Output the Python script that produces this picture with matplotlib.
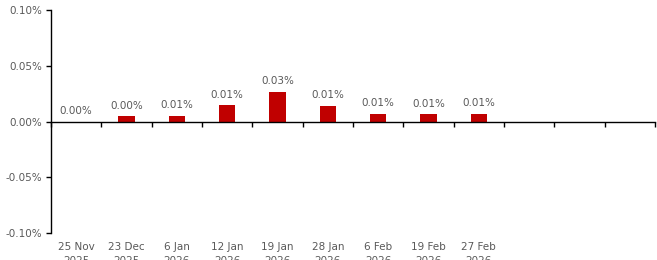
import matplotlib
matplotlib.use("Agg")
import matplotlib.pyplot as plt
import matplotlib.transforms as mtransforms
import numpy as np

categories = ["25 Nov\n2025", "23 Dec\n2025", "6 Jan\n2026", "12 Jan\n2026", "19 Jan\n2026",
              "28 Jan\n2026", "6 Feb\n2026", "19 Feb\n2026", "27 Feb\n2026", "", "", ""]
values = [0.0, 0.0045, 0.0053, 0.0146, 0.0265, 0.0140, 0.0069, 0.0066, 0.0071, None, None, None]
yticks = [-0.10, -0.05, 0.0, 0.05, 0.10]

W, H = 657, 260
fig = plt.figure(figsize=(W / 100, H / 100), dpi=100)
ax = fig.add_axes([51 / W, 1 - 233 / H, (655 - 51) / W, (233 - 10) / H])

gray = "#595959"
fs = 7.5
x = np.arange(len(categories))
for xi, v in zip(x, values):
    if v is None:
        continue
    if v > 0:
        ax.bar(xi, v, width=0.32, color="#C00000", zorder=2)
    ax.annotate(f"{v:.2f}%", (xi, v), xytext=(0, 4), textcoords="offset points",
                ha="center", va="bottom", fontsize=fs, color=gray)

ax.set_xlim(-0.5, len(categories) - 0.5)
ax.set_ylim(-0.10, 0.10)
ax.set_yticks(yticks)
ax.set_yticklabels([f"{t:.2f}%" for t in yticks], fontsize=fs, color=gray)
ax.tick_params(axis="y", length=3.5, width=1, color="black", pad=3)

for s in ["top", "right"]:
    ax.spines[s].set_visible(False)
ax.spines["bottom"].set_position(("data", 0))
ax.spines["left"].set_linewidth(1)
ax.spines["bottom"].set_linewidth(1)

ax.set_xticks(np.arange(-0.5, len(categories), 1.0))
ax.set_xticklabels([])
ax.tick_params(axis="x", length=3.5, width=1, direction="out", color="black")

trans = mtransforms.blended_transform_factory(ax.transData, ax.transAxes)
for xi, c in zip(x, categories):
    if c:
        ax.text(xi, -0.042, c, transform=trans, ha="center", va="top",
                fontsize=fs, color=gray, linespacing=1.45)

fig.savefig("out.png", dpi=100)
